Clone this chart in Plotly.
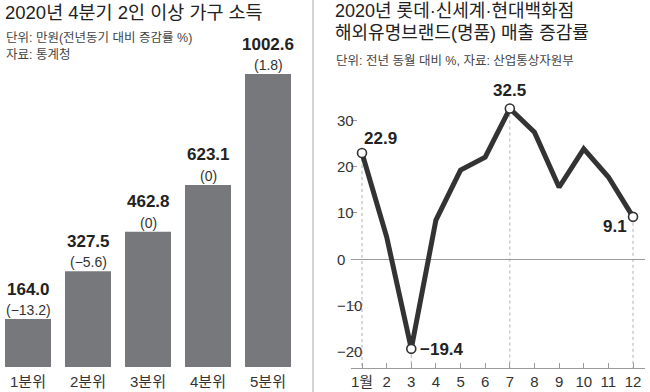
import plotly.graph_objects as go

# ---------------- data ----------------
quintiles = ["1분위", "2분위", "3분위", "4분위", "5분위"]
income = [164.0, 327.5, 462.8, 623.1, 1002.6]          # 만원
income_change = [-13.2, -5.6, 0, 0, 1.8]               # 전년동기 대비 %

months = [1, 2, 3, 4, 5, 6, 7, 8, 9, 10, 11, 12]
month_labels = ["1월", "2", "3", "4", "5", "6", "7", "8", "9", "10", "11", "12"]
sales_change = [22.9, 4.8, -19.4, 8.4, 19.2, 22.0, 32.5, 27.4, 15.5, 23.8, 17.7, 9.1]
highlight_months = [1, 3, 7, 12]
y_ticks = [-20, -10, 0, 10, 20, 30]

W, H = 650, 392
FONT = "Liberation Sans, Arial, Noto Sans CJK KR, sans-serif"
BAR_COLOR = "#77787c"
LINE_COLOR = "#333333"
AXIS_GRAY = "#9a9a9a"


def px(x):
    return x / W


def py(y):
    return 1 - y / H


def fmt(v):
    s = ("%g" % v)
    return s.replace("-", "−")


fig = go.Figure()

# ---------------- left: bar chart ----------------
fig.add_trace(go.Bar(
    x=quintiles, y=income, marker=dict(color=BAR_COLOR, line=dict(width=0)),
    xaxis="x", yaxis="y", hoverinfo="skip", showlegend=False,
))

annotations = []
for q, v, c in zip(quintiles, income, income_change):
    annotations.append(dict(x=q, y=v, xref="x", yref="y", text="<b>%.1f</b>" % v,
                            showarrow=False, yanchor="middle", yshift=30,
                            font=dict(family=FONT, size=17, color="#222")))
    annotations.append(dict(x=q, y=v, xref="x", yref="y", text="(%s)" % fmt(c),
                            showarrow=False, yanchor="middle", yshift=9,
                            font=dict(family=FONT, size=14, color="#333")))

# ---------------- right: line chart ----------------
fig.add_trace(go.Scatter(
    x=months, y=sales_change, mode="lines",
    line=dict(color=LINE_COLOR, width=5),
    xaxis="x2", yaxis="y2", hoverinfo="skip", showlegend=False,
))
hl_vals = [sales_change[m - 1] for m in highlight_months]
fig.add_trace(go.Scatter(
    x=highlight_months, y=hl_vals, mode="markers",
    marker=dict(symbol="circle", size=9, color="white",
                line=dict(color=LINE_COLOR, width=1.6)),
    xaxis="x2", yaxis="y2", hoverinfo="skip", showlegend=False,
))

Y2_MIN, Y2_MAX = -23.54, 37.58
shapes = []
for m, v in zip(highlight_months, hl_vals):
    shapes.append(dict(type="line", xref="x2", yref="y2", x0=m, x1=m, y0=v, y1=Y2_MIN,
                       line=dict(color="#b0b0b0", width=1, dash="dot"), layer="below"))

# separator
shapes.append(dict(type="line", xref="paper", yref="paper", x0=px(313), x1=px(313),
                   y0=0, y1=1, line=dict(color="#d4d4d4", width=2)))

# y tick labels of the line chart (left-aligned, as in the original)
for v in y_ticks:
    annotations.append(dict(x=px(335), y=v, xref="paper", yref="y2", text=fmt(v),
                            showarrow=False, xanchor="left", yanchor="middle",
                            font=dict(family=FONT, size=15, color="#333")))

label_pos = {1: dict(xshift=18, yshift=14, xanchor="center"),
             3: dict(xshift=7, yshift=-1, xanchor="left"),
             7: dict(xshift=0, yshift=18, xanchor="center"),
             12: dict(xshift=-4, yshift=-10, xanchor="right")}
for m, v in zip(highlight_months, hl_vals):
    p = label_pos[m]
    annotations.append(dict(x=m, y=v, xref="x2", yref="y2", text="<b>%s</b>" % fmt(v),
                            showarrow=False, yanchor="middle", xanchor=p["xanchor"],
                            xshift=p["xshift"], yshift=p["yshift"],
                            font=dict(family=FONT, size=17, color="#222")))

# ---------------- titles ----------------
def txt(x, y, s, size, color):
    annotations.append(dict(x=px(x), y=py(y), xref="paper", yref="paper", text=s,
                            showarrow=False, xanchor="left", yanchor="middle",
                            font=dict(family=FONT, size=size, color=color)))

txt(3, 12, "2020년 4분기 2인 이상 가구 소득", 18.5, "#222")
txt(4, 38, "단위: 만원(전년동기 대비 증감률 %)", 12.5, "#444")
txt(4, 55, "자료: 통계청", 12.5, "#444")
txt(333, 11, "2020년 롯데·신세계·현대백화점", 18, "#222")
txt(333, 33, "해외유명브랜드(명품) 매출 증감률", 18, "#222")
txt(334, 61, "단위: 전년 동월 대비 %, 자료: 산업통상자원부", 12.5, "#444")

fig.update_layout(
    width=W, height=H,
    margin=dict(l=0, r=0, t=0, b=0),
    paper_bgcolor="white", plot_bgcolor="white",
    bargap=0.233,
    xaxis=dict(domain=[0, px(300)], range=[-0.4667, 4.5333], anchor="y",
               showgrid=False, zeroline=False, showline=False, ticks="",
               ticklabelstandoff=4,
               tickfont=dict(family=FONT, size=15, color="#333")),
    yaxis=dict(domain=[py(367), py(60)], range=[0, 1050.7], anchor="x",
               showgrid=False, zeroline=False, showline=False, showticklabels=False),
    xaxis2=dict(domain=[px(351), px(645)], range=[0.5536, 12.486], anchor="y2",
                tickvals=months, ticktext=month_labels, ticks="inside", ticklen=5,
                tickcolor=AXIS_GRAY, showline=True, linecolor=AXIS_GRAY, linewidth=1,
                showgrid=False, zeroline=False,
                tickfont=dict(family=FONT, size=15, color="#333")),
    yaxis2=dict(domain=[py(368), py(85)], range=[Y2_MIN, Y2_MAX], anchor="x2",
                tickvals=y_ticks, ticks="inside", ticklen=6, tickcolor=AXIS_GRAY,
                showticklabels=False, showgrid=False, showline=False,
                zeroline=True, zerolinecolor=AXIS_GRAY, zerolinewidth=1),
    shapes=shapes,
    annotations=annotations,
)

fig.write_html("out.html", config={"displayModeBar": False},
               post_script="document.body.style.margin='0';")
